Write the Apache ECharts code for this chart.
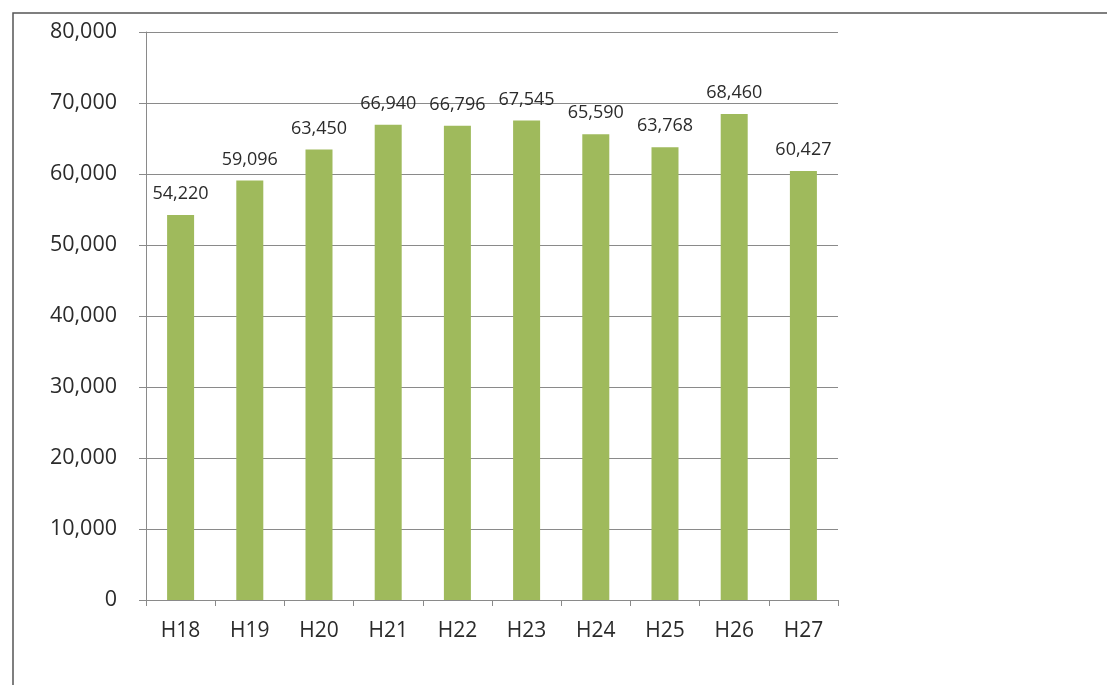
<!DOCTYPE html>
<html>
<head>
<meta charset="utf-8">
<script src="https://cdn.jsdelivr.net/npm/echarts@6/dist/echarts.min.js"></script>
<style>
  html, body { margin: 0; padding: 0; background: #ffffff; }
  #chart { width: 1107px; height: 685px; }
</style>
</head>
<body>
<div id="chart"></div>
<script>
// Fiscal years (Heisei era) and yearly totals
const categories = ['H18', 'H19', 'H20', 'H21', 'H22', 'H23', 'H24', 'H25', 'H26', 'H27'];
const values = [54220, 59096, 63450, 66940, 66796, 67545, 65590, 63768, 68460, 60427];

const FONT = '"Open Sans", Lato, sans-serif';

const chart = echarts.init(document.getElementById('chart'));
chart.setOption({
  animation: false,
  backgroundColor: '#ffffff',
  graphic: [{
    type: 'rect',
    shape: { x: 13, y: 13, width: 1200, height: 800 },
    style: { fill: 'none', stroke: '#555555', lineWidth: 1.5 },
    silent: true
  }],
  grid: { left: 146, right: 269, top: 32, bottom: 85 },
  xAxis: {
    type: 'category',
    data: categories,
    axisLine: { lineStyle: { color: '#8a8a8a', width: 1 } },
    axisTick: { show: true, alignWithLabel: false, length: 6, lineStyle: { color: '#8a8a8a' } },
    axisLabel: { color: '#2b2b2b', fontSize: 21, fontFamily: FONT, margin: 21 }
  },
  yAxis: {
    type: 'value',
    min: 0,
    max: 80000,
    interval: 10000,
    axisLine: { show: true, lineStyle: { color: '#8a8a8a', width: 1 } },
    axisTick: { show: true, length: 7, lineStyle: { color: '#8a8a8a' } },
    splitLine: { lineStyle: { color: '#8a8a8a', width: 1 } },
    axisLabel: {
      color: '#2b2b2b', fontSize: 21.5, fontFamily: FONT, margin: 29,
      formatter: v => v.toLocaleString('en-US')
    }
  },
  series: [{
    type: 'bar',
    data: values,
    barWidth: 27,
    itemStyle: { color: '#9fba5c' },
    label: {
      show: true,
      position: 'top',
      distance: 12,
      color: '#2b2b2b',
      fontSize: 18,
      fontFamily: FONT,
      formatter: p => p.value.toLocaleString('en-US')
    }
  }]
});
</script>
</body>
</html>
